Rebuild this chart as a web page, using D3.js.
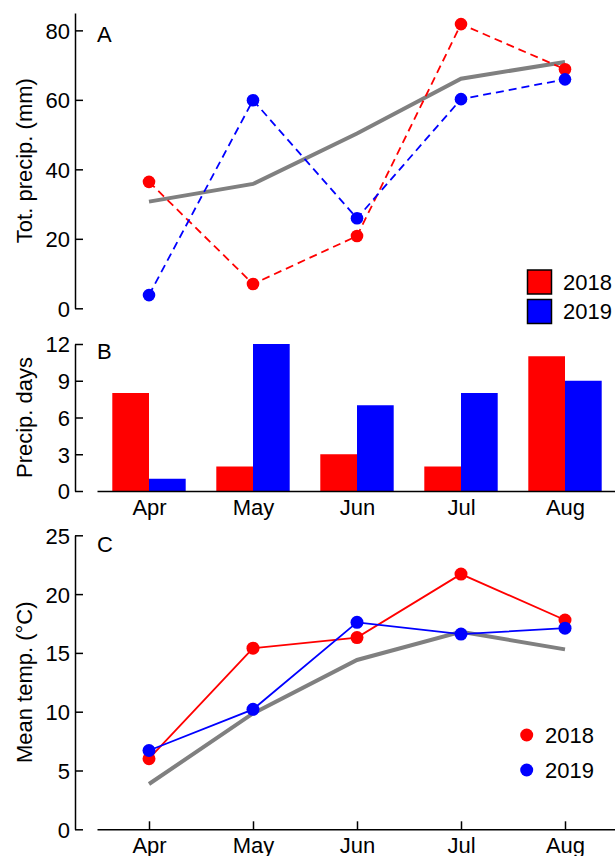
<!DOCTYPE html>
<html>
<head>
<meta charset="utf-8">
<script src="https://cdn.jsdelivr.net/npm/d3@7/dist/d3.min.js"></script>
<style>
  html, body { margin: 0; padding: 0; background: #fff; }
  svg { display: block; }
  text { font-family: "Liberation Sans", Arial, Helvetica, sans-serif; fill: #000; }
  .axis path, .axis line { stroke: #000; stroke-width: 1.5px; }
  .axis text { font-size: 22px; }
</style>
</head>
<body>
<svg id="chart" width="615" height="856"></svg>
<script>
// Monthly weather for the growing seasons 2018 and 2019 with long-term normals
const months = ["Apr", "May", "Jun", "Jul", "Aug"];
const years = ["2018", "2019"];

// A: total precipitation (mm)
const precip2018 = [36.4, 7.0, 20.8, 81.8, 68.8];
const precip2019 = [3.8, 59.9, 25.9, 60.2, 65.9];
const precipNormal = [30.7, 35.8, 50.3, 66.1, 70.9];
const precipTicks = [0, 20, 40, 60, 80];

// B: number of precipitation days
const days2018 = [8, 2, 3, 2, 11];
const days2019 = [1, 12, 7, 8, 9];
const daysTicks = [0, 3, 6, 9, 12];

// C: mean air temperature (°C)
const temp2018 = [6.0, 15.4, 16.3, 21.7, 17.8];
const temp2019 = [6.7, 10.2, 17.6, 16.6, 17.1];
const tempNormal = [3.85, 9.85, 14.4, 16.8, 15.3];
const tempTicks = [0, 5, 10, 15, 20, 25];

const RED = "#ff0000", BLUE = "#0000ff", GREY = "#808080";
const FONT = 22;
const svg = d3.select("#chart");

// shared month position (categories 1..5 inside 0.5..5.5)
const x = d3.scaleLinear().domain([0.5, 5.5]).range([97, 617]);
const xm = i => x(i + 1);
const axisX = 75;

const yA = d3.scaleLinear().domain([0, 85]).range([308.3, 13]);
const yB = d3.scaleLinear().domain([0, 12]).range([491, 344]);
const yC = d3.scaleLinear().domain([0, 25]).range([829.3, 535.3]);

function yAxis(scale, ticks) {
  const g = svg.append("g").attr("class", "axis")
    .attr("transform", `translate(${axisX},0)`)
    .call(d3.axisLeft(scale).tickValues(ticks).tickSizeInner(-8).tickSizeOuter(0).tickPadding(5));
  g.selectAll(".tick text").attr("dy", "0.36em");
  return g;
}

function yTitle(label, scale) {
  const [a, b] = scale.range();
  svg.append("text")
    .attr("transform", `translate(32,${(a + b) / 2}) rotate(-90)`)
    .attr("text-anchor", "middle")
    .attr("font-size", FONT)
    .text(label);
}

function panelLetter(letter, y) {
  svg.append("text").attr("x", 97).attr("y", y).attr("font-size", FONT).text(letter);
}

const line = (scale) => d3.line().x((d, i) => xm(i)).y(d => scale(d));

// ---------- Panel A ----------
yAxis(yA, precipTicks);
yTitle("Tot. precip. (mm)", yA);
panelLetter("A", 41.5);

svg.append("path").datum(precipNormal)
  .attr("d", line(yA)).attr("fill", "none")
  .attr("stroke", GREY).attr("stroke-width", 4);

[[precip2018, RED], [precip2019, BLUE]].forEach(([vals, col]) => {
  svg.append("path").datum(vals)
    .attr("d", line(yA)).attr("fill", "none")
    .attr("stroke", col).attr("stroke-width", 1.8)
    .attr("stroke-dasharray", "8,5");
  svg.append("g").selectAll("circle").data(vals).join("circle")
    .attr("cx", (d, i) => xm(i)).attr("cy", d => yA(d))
    .attr("r", 6.3).attr("fill", col);
});

// legend with boxed swatches
const legA = svg.append("g");
[RED, BLUE].forEach((col, i) => {
  const cy = 282 + i * 29.5;
  legA.append("rect")
    .attr("x", 527.5).attr("y", cy - 12).attr("width", 24).attr("height", 24)
    .attr("fill", col).attr("stroke", "#000").attr("stroke-width", 1.5);
  legA.append("text")
    .attr("x", 563).attr("y", cy).attr("dy", "0.36em")
    .attr("font-size", FONT).text(years[i]);
});

// ---------- Panel B ----------
yAxis(yB, daysTicks);
yTitle("Precip. days", yB);
panelLetter("B", 358.5);

const barW = 36.7;
[[days2018, RED, -1], [days2019, BLUE, 0]].forEach(([vals, col, off]) => {
  svg.append("g").selectAll("rect").data(vals).join("rect")
    .attr("x", (d, i) => xm(i) + off * barW)
    .attr("y", d => yB(d))
    .attr("width", barW)
    .attr("height", d => yB(0) - yB(d))
    .attr("fill", col);
});

svg.append("g").attr("class", "axis")
  .attr("transform", `translate(0,${yB(0)})`)
  .call(d3.axisBottom(x).tickValues([1, 2, 3, 4, 5]).tickFormat(d => months[d - 1])
    .tickSize(0).tickPadding(8.5));

// ---------- Panel C ----------
yAxis(yC, tempTicks);
yTitle("Mean temp. (°C)", yC);
panelLetter("C", 551.5);

svg.append("path").datum(tempNormal)
  .attr("d", line(yC)).attr("fill", "none")
  .attr("stroke", GREY).attr("stroke-width", 4);

[[temp2018, RED], [temp2019, BLUE]].forEach(([vals, col]) => {
  svg.append("path").datum(vals)
    .attr("d", line(yC)).attr("fill", "none")
    .attr("stroke", col).attr("stroke-width", 1.8);
  svg.append("g").selectAll("circle").data(vals).join("circle")
    .attr("cx", (d, i) => xm(i)).attr("cy", d => yC(d))
    .attr("r", 6.5).attr("fill", col);
});

svg.append("g").attr("class", "axis")
  .attr("transform", `translate(0,${yC(0)})`)
  .call(d3.axisBottom(x).tickValues([1, 2, 3, 4, 5]).tickFormat(d => months[d - 1])
    .tickSizeInner(-8).tickSizeOuter(0).tickPadding(8));

// legend with dot swatches
const legC = svg.append("g");
[RED, BLUE].forEach((col, i) => {
  const cy = 735 + i * 35;
  legC.append("circle").attr("cx", 526.7).attr("cy", cy).attr("r", 6.5).attr("fill", col);
  legC.append("text")
    .attr("x", 545).attr("y", cy).attr("dy", "0.36em")
    .attr("font-size", FONT).text(years[i]);
});
</script>
</body>
</html>
